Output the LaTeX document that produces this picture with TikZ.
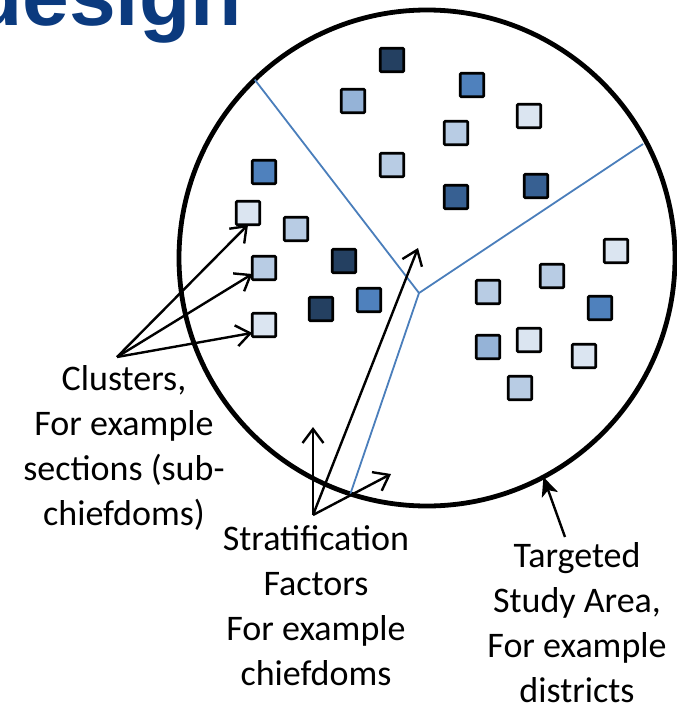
\documentclass[tikz,border=0pt]{standalone}
\usepackage{fontspec}
\setmainfont{Carlito}
\newfontfamily\titlefont{Liberation Sans}
\usetikzlibrary{arrows.meta}
\definecolor{titleblue}{HTML}{0B3A7E}
\definecolor{navy}{HTML}{244061}
\definecolor{steel}{HTML}{376092}
\definecolor{accent}{HTML}{4F81BD}
\definecolor{tintA}{HTML}{95B3D7}
\definecolor{tintB}{HTML}{B8CCE4}
\definecolor{tintC}{HTML}{DBE5F1}
\definecolor{divider}{HTML}{4A7EBB}
\begin{document}
\begin{tikzpicture}[x=1pt, y=-1pt,
        cell/.style={draw, line width=2.6pt, rounded corners=1pt, minimum size=23.5pt, inner sep=0pt, outer sep=0pt},
        pointer/.style={line width=2.4pt, -{Straight Barb[length=14pt, width=21pt]}},
        split/.style={divider, line width=1.8pt},
        captext/.style={font=\fontsize{36}{45}\selectfont, align=center, inner sep=0pt, anchor=north}]
        \useasboundingbox (0, 0) rectangle (677, 704);
        \clip (0, 0) rectangle (677, 704);
        \node[font=\titlefont\bfseries\fontsize{84}{84}\selectfont, text=titleblue, anchor=base east, inner sep=0pt] (title) at (242, 25) {design};
        % study area and its three strata
        \node[draw, circle, line width=4.8pt, minimum size=496pt, inner sep=0pt, outer sep=0pt] (area) at (427, 258) {};
        \coordinate (hub) at (419, 293);
        \coordinate (eastend) at (643, 144);
        \draw[split] (hub) -- (area.134.7);
        \draw[split] (hub) -- (eastend);
        \draw[split] (hub) -- (area.-108.3);
        % clusters
        \node[cell, fill=navy] (c1) at (392, 60) {};
        \node[cell, fill=accent] (c2) at (472, 85) {};
        \node[cell, fill=tintA] (c3) at (353, 101) {};
        \node[cell, fill=tintC] (c4) at (529, 116) {};
        \node[cell, fill=tintB] (c5) at (456, 133) {};
        \node[cell, fill=tintB] (c6) at (392, 165) {};
        \node[cell, fill=steel] (c7) at (456, 197) {};
        \node[cell, fill=steel] (c8) at (536, 186) {};
        \node[cell, fill=accent] (c9) at (264, 172) {};
        \node[cell, fill=tintC] (c10) at (248, 213) {};
        \node[cell, fill=tintB] (c11) at (296, 229) {};
        \node[cell, fill=tintB] (c12) at (264, 268) {};
        \node[cell, fill=navy] (c13) at (344, 261) {};
        \node[cell, fill=navy] (c14) at (321, 309) {};
        \node[cell, fill=accent] (c15) at (369, 300) {};
        \node[cell, fill=tintC] (c16) at (264, 325) {};
        \node[cell, fill=tintC] (c17) at (616, 251) {};
        \node[cell, fill=tintB] (c18) at (552, 276) {};
        \node[cell, fill=tintB] (c19) at (488, 292) {};
        \node[cell, fill=accent] (c20) at (600, 308) {};
        \node[cell, fill=tintA] (c21) at (488, 347) {};
        \node[cell, fill=tintC] (c22) at (529, 340) {};
        \node[cell, fill=tintC] (c23) at (584, 356) {};
        \node[cell, fill=tintB] (c24) at (520, 388) {};
        % labels
        \node[captext] (clusters) at (124, 365) {Clusters,\\For example\\sections (sub-\\chiefdoms)};
        \node[captext] (strata) at (316, 525) {Stratification\\Factors\\For example\\chiefdoms};
        \node[captext] (study) at (577, 542) {Targeted\\Study Area,\\For example\\districts};
        % arrows
        \coordinate (ctail) at (117, 357);
        \draw[pointer] (ctail) -- (c10.south);
        \draw[pointer] (ctail) -- (c12.207);
        \draw[pointer] (ctail) -- (c16.214);
        \coordinate (stail) at (313, 515);
        \coordinate (sup) at (313, 427);
        \coordinate (shub) at (418, 248);
        \coordinate (srim) at (391, 474);
        \draw[pointer] (stail) -- (sup);
        \draw[pointer] (stail) -- (shub);
        \draw[pointer] (stail) -- (srim);
        \coordinate (atail) at (565, 537);
        \draw[line width=2.4pt, -{Stealth[length=19pt, width=17pt, inset=5pt]}] (atail) -- (area.-62.5);
    \end{tikzpicture}
\end{document}
